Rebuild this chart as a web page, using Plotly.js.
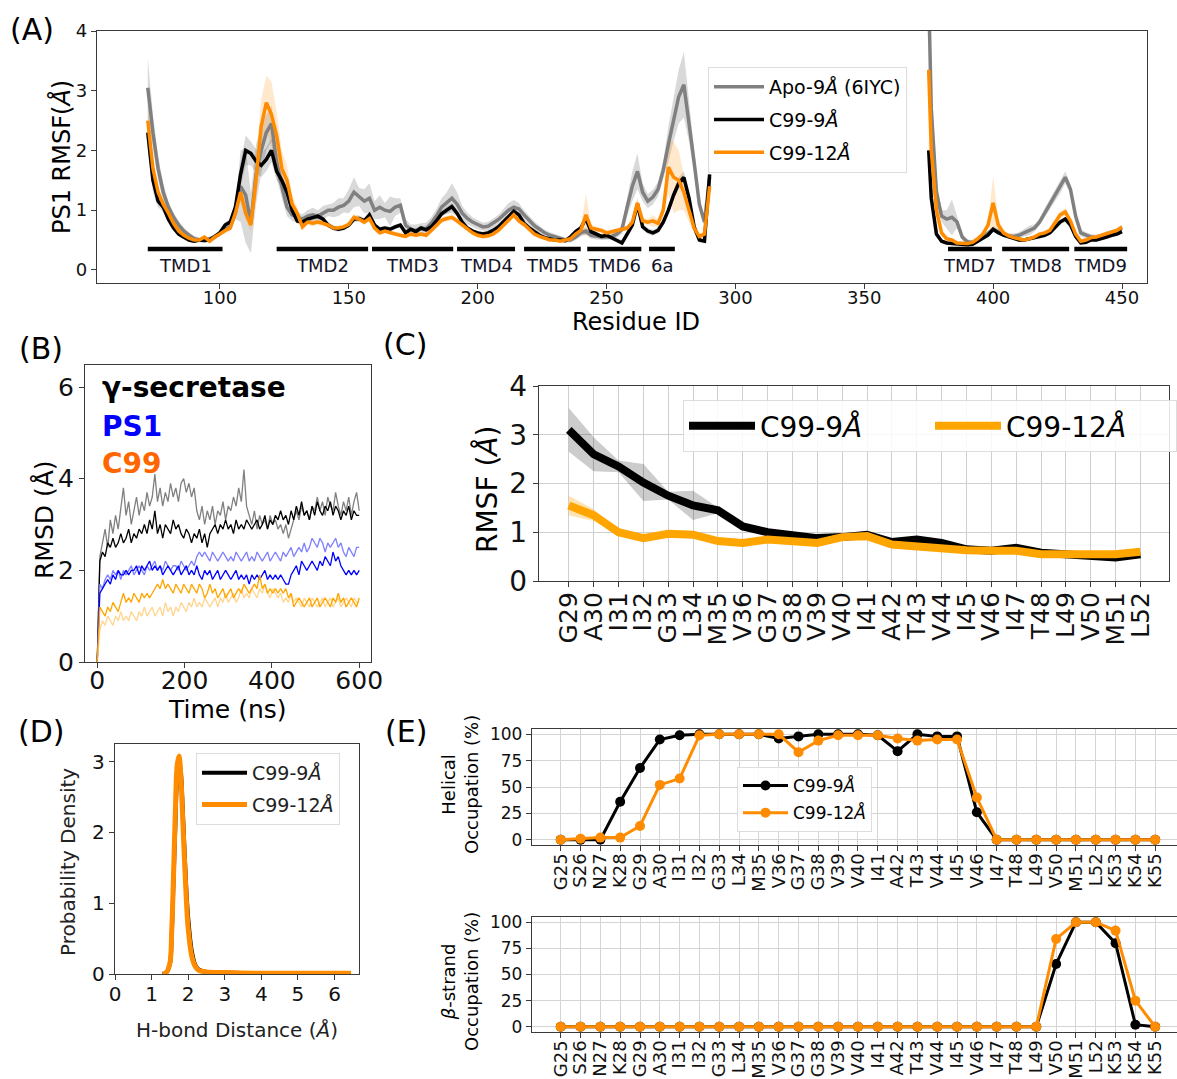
<!DOCTYPE html>
<html>
<head>
<meta charset="utf-8">
<script src="https://cdn.plot.ly/plotly-3.0.1.min.js"></script>
<style>html,body{margin:0;padding:0;background:#fff;}#chart{width:1177px;height:1079px;}</style>
</head>
<body>
<div id="chart"></div>
<script>
// ---------------- Panel A data: PS1 RMSF per residue ----------------
const residA = [72,74,76,78,80,82,84,86,88,90,
92,94,96,98,100,102,104,106,108,110,
112,114,116,118,120,122,124,126,128,130,
132,134,136,138,140,142,144,146,148,150,
152,154,156,158,160,162,164,166,168,170,
172,174,176,178,180,182,184,186,188,190,
192,194,196,198,200,202,204,206,208,210,
212,214,216,218,220,222,224,226,228,230,
232,234,236,238,240,242,244,246,248,250,
252,254,256,258,260,262,264,266,268,270,
272,274,276,278,280,282,284,286,288,290,
330,
375,376,378,380,382,384,386,388,390,392,
394,396,398,400,402,404,406,408,410,412,
414,416,418,420,422,424,426,428,430,432,
434,436,438,440,442,444,446,448,450];
const apoA = [3.05,2.3,1.7,1.3,1.05,0.88,0.75,0.65,0.58,0.52,
0.5,0.5,0.52,0.55,0.62,0.68,0.72,0.95,1.4,1.25,
0.78,1.6,2.0,2.3,2.45,1.8,1.4,1.05,0.92,0.88,
0.85,0.9,0.92,0.9,0.95,1.0,1.0,1.05,1.08,1.15,
1.3,1.22,1.15,1.2,1.0,1.05,1.0,0.98,1.05,1.08,
0.75,0.68,0.66,0.7,0.69,0.78,0.9,1.05,1.12,1.2,
1.1,0.95,0.86,0.8,0.76,0.72,0.73,0.78,0.84,0.92,
1.0,1.05,1.02,0.92,0.82,0.74,0.68,0.62,0.58,0.55,
0.52,0.5,0.5,0.55,0.62,0.65,0.58,0.56,0.55,0.55,
0.56,0.6,0.68,1.05,1.4,1.65,1.3,1.15,1.22,1.35,
1.67,2.1,2.5,2.9,3.1,2.5,1.8,1.1,0.8,1.55,
null,
4.6,2.7,1.3,0.9,0.85,0.88,0.8,0.55,0.47,0.46,
0.48,0.55,0.62,0.68,0.64,0.6,0.57,0.56,0.58,0.62,
0.66,0.7,0.8,0.95,1.1,1.25,1.38,1.55,1.35,0.9,
0.62,0.58,0.55,0.54,0.56,0.6,0.62,0.65,0.7];
const apoSdA = [0.5,0.3,0.2,0.15,0.1,0.08,0.07,0.06,0.05,0.05,
0.04,0.04,0.04,0.05,0.05,0.05,0.06,0.1,0.6,0.8,
0.5,0.5,0.4,0.3,0.3,0.25,0.2,0.15,0.1,0.08,
0.08,0.1,0.12,0.1,0.12,0.1,0.12,0.15,0.12,0.2,
0.25,0.15,0.2,0.25,0.15,0.2,0.12,0.25,0.15,0.12,
0.1,0.08,0.1,0.08,0.1,0.1,0.12,0.15,0.18,0.25,
0.2,0.12,0.1,0.08,0.08,0.07,0.07,0.08,0.08,0.1,
0.12,0.12,0.1,0.08,0.08,0.07,0.06,0.05,0.05,0.05,
0.05,0.04,0.04,0.05,0.06,0.06,0.06,0.05,0.05,0.05,
0.05,0.06,0.08,0.15,0.25,0.3,0.15,0.12,0.12,0.12,
0.15,0.3,0.35,0.45,0.55,0.35,0.25,0.1,0.08,0.1,
null,
0.3,0.3,0.2,0.1,0.15,0.3,0.1,0.05,0.04,0.04,
0.04,0.04,0.05,0.05,0.05,0.04,0.04,0.05,0.05,0.06,
0.08,0.06,0.06,0.08,0.08,0.1,0.1,0.1,0.08,0.06,
0.06,0.05,0.05,0.05,0.05,0.05,0.05,0.05,0.05];
const c9A = [2.3,1.5,1.15,1.05,0.85,0.7,0.6,0.55,0.5,0.48,
0.5,0.49,0.5,0.56,0.62,0.75,0.8,1.05,1.6,2.0,
1.95,1.82,1.75,1.85,2.0,1.65,1.5,1.3,1.0,0.82,
0.8,0.85,0.88,0.9,0.85,0.75,0.7,0.68,0.7,0.75,
0.85,0.86,0.82,0.92,0.75,0.68,0.7,0.68,0.72,0.75,
0.62,0.68,0.64,0.7,0.67,0.72,0.82,0.94,1.0,1.06,
0.95,0.8,0.7,0.65,0.62,0.6,0.62,0.66,0.72,0.8,
0.88,0.98,0.92,0.78,0.7,0.64,0.58,0.54,0.52,0.5,
0.5,0.49,0.55,0.64,0.7,0.86,0.64,0.6,0.56,0.58,
0.54,0.5,0.45,0.6,0.75,1.1,0.72,0.65,0.62,0.66,
0.8,1.0,1.25,1.45,1.55,1.2,0.72,0.5,0.48,1.6,
null,
2.0,1.2,0.6,0.48,0.45,0.44,0.43,0.42,0.42,0.43,
0.48,0.53,0.58,0.68,0.62,0.58,0.55,0.52,0.5,0.5,
0.52,0.54,0.56,0.58,0.62,0.7,0.8,0.85,0.75,0.56,
0.45,0.46,0.5,0.5,0.52,0.55,0.58,0.6,0.64];
const c9SdA = [0.3,0.2,0.1,0.08,0.06,0.05,0.04,0.04,0.03,0.03,
0.03,0.03,0.03,0.03,0.04,0.05,0.05,0.08,0.2,0.25,
0.2,0.2,0.2,0.2,0.2,0.15,0.12,0.1,0.08,0.05,
0.05,0.05,0.05,0.05,0.05,0.04,0.04,0.04,0.04,0.04,
0.05,0.05,0.05,0.05,0.04,0.04,0.04,0.04,0.04,0.04,
0.04,0.04,0.04,0.04,0.04,0.04,0.05,0.05,0.06,0.06,
0.05,0.04,0.04,0.04,0.04,0.04,0.04,0.04,0.04,0.04,
0.05,0.05,0.05,0.04,0.04,0.04,0.04,0.03,0.03,0.03,
0.03,0.03,0.03,0.04,0.04,0.05,0.04,0.04,0.04,0.04,
0.04,0.04,0.04,0.04,0.05,0.06,0.05,0.05,0.05,0.05,
0.05,0.06,0.08,0.1,0.1,0.08,0.05,0.04,0.04,0.05,
null,
0.2,0.1,0.05,0.03,0.03,0.03,0.03,0.03,0.03,0.03,
0.03,0.03,0.03,0.04,0.03,0.03,0.03,0.03,0.03,0.03,
0.03,0.03,0.03,0.03,0.03,0.04,0.04,0.04,0.04,0.03,
0.03,0.03,0.03,0.03,0.03,0.03,0.03,0.03,0.03];
const c12A = [2.5,1.7,1.3,1.1,0.95,0.78,0.65,0.58,0.53,0.5,
0.5,0.55,0.48,0.55,0.6,0.66,0.7,0.95,1.3,0.95,
0.75,1.5,2.4,2.8,2.6,2.25,1.7,1.5,1.1,0.95,
0.72,0.8,0.78,0.8,0.78,0.75,0.7,0.7,0.72,0.76,
0.88,0.85,0.8,0.86,0.7,0.62,0.65,0.62,0.6,0.58,
0.56,0.6,0.58,0.6,0.58,0.66,0.75,0.83,0.86,0.88,
0.82,0.75,0.68,0.62,0.58,0.56,0.57,0.6,0.66,0.74,
0.84,0.92,0.82,0.76,0.68,0.6,0.56,0.53,0.5,0.5,
0.48,0.5,0.52,0.6,0.66,0.92,0.7,0.68,0.66,0.62,
0.64,0.66,0.68,0.7,0.8,1.12,0.82,0.8,0.82,0.78,
1.0,1.72,1.55,1.5,1.3,1.0,0.7,0.56,0.6,1.4,
null,
3.35,2.0,1.0,0.62,0.52,0.5,0.45,0.44,0.44,0.46,
0.52,0.6,0.75,1.12,0.75,0.62,0.57,0.54,0.52,0.5,
0.52,0.55,0.6,0.62,0.66,0.78,0.92,0.97,0.82,0.6,
0.48,0.5,0.54,0.55,0.58,0.6,0.63,0.66,0.72];
const c12SdA = [0.3,0.2,0.1,0.08,0.06,0.05,0.04,0.04,0.03,0.03,
0.03,0.03,0.03,0.03,0.04,0.05,0.05,0.08,0.15,0.12,
0.1,0.3,0.45,0.45,0.55,0.4,0.3,0.25,0.15,0.1,
0.06,0.05,0.05,0.05,0.05,0.04,0.04,0.04,0.04,0.05,
0.05,0.05,0.05,0.05,0.04,0.04,0.04,0.04,0.04,0.04,
0.04,0.04,0.04,0.04,0.04,0.04,0.05,0.05,0.05,0.05,
0.05,0.04,0.04,0.04,0.04,0.04,0.04,0.04,0.04,0.04,
0.05,0.05,0.05,0.04,0.04,0.04,0.04,0.03,0.03,0.03,
0.03,0.03,0.03,0.04,0.05,0.35,0.06,0.04,0.04,0.04,
0.04,0.04,0.04,0.04,0.05,0.1,0.06,0.05,0.1,0.06,
0.1,0.45,0.6,0.5,0.3,0.2,0.1,0.05,0.05,0.05,
null,
0.3,0.2,0.1,0.05,0.04,0.03,0.03,0.03,0.03,0.03,
0.03,0.03,0.05,0.45,0.1,0.05,0.04,0.04,0.03,0.03,
0.03,0.03,0.03,0.03,0.03,0.04,0.06,0.06,0.05,0.04,
0.03,0.03,0.03,0.03,0.03,0.03,0.03,0.03,0.03];
const tmdNames = ['TMD1','TMD2','TMD3','TMD4','TMD5','TMD6','6a','TMD7','TMD8','TMD9'];
const tmdStart = [72,122,159,192,218,242.5,266.5,382.5,403.5,431.5];
const tmdEnd   = [101,157.5,190.5,214.5,240,263.5,276.5,399.5,429.5,452];

// ---------------- Panel B data: RMSD time series ----------------
const timeB = [0,6,12,18,24,30,36,42,48,54,60,66,72,78,84,90,96,102,108,114,
120,126,132,138,144,150,156,162,168,174,180,186,192,198,204,210,216,222,228,234,
240,246,252,258,264,270,276,282,288,294,300,306,312,318,324,330,336,342,348,354,
360,366,372,378,384,390,396,402,408,414,420,426,432,438,444,450,456,462,468,474,
480,486,492,498,504,510,516,522,528,534,540,546,552,558,564,570,576,582,588,594,600];
const gsecGrayB = [0,2.3,2.6,2.9,2.5,3.1,2.8,3.2,2.9,3.4,
3.8,3.2,3.5,3.0,3.3,3.6,3.2,3.5,3.3,3.7,
3.4,3.6,4.1,3.5,3.8,3.4,3.7,3.5,3.9,3.6,
3.8,3.5,3.9,4.0,3.7,3.9,3.6,3.8,3.3,3.1,
3.4,3.0,3.3,3.1,3.4,3.0,3.3,3.2,3.5,3.1,
3.4,3.3,3.6,3.4,3.8,3.5,4.2,3.4,3.2,3.0,
3.3,2.9,3.2,3.0,3.1,2.9,3.2,3.0,3.1,2.9,
3.0,2.8,3.0,2.7,2.9,3.1,3.3,3.1,3.4,3.2,
3.3,3.1,3.4,3.3,3.6,3.3,3.5,3.2,3.6,3.4,
3.3,3.7,3.4,3.2,3.5,3.3,3.6,3.2,3.5,3.7,3.3];
const gsecBlackB = [0,2.2,2.4,2.3,2.6,2.5,2.7,2.5,2.6,2.8,
2.6,2.7,2.9,2.6,2.8,2.7,2.9,2.8,3.0,2.8,
3.1,2.9,3.3,2.8,3.0,2.7,3.0,2.9,2.8,3.1,
2.9,3.0,2.8,2.7,2.9,2.8,2.6,2.8,2.7,2.9,
2.6,2.8,2.5,2.8,2.9,3.0,2.8,3.0,2.9,3.1,
2.9,3.0,2.8,3.1,2.9,3.0,2.9,3.1,3.0,2.9,
3.0,3.1,2.9,3.0,3.2,2.9,3.1,3.0,3.2,3.1,
3.3,3.1,3.2,3.0,3.3,3.1,3.4,3.2,3.5,3.2,
3.3,3.1,3.4,3.2,3.5,3.3,3.2,3.4,3.3,3.5,
3.2,3.4,3.3,3.1,3.3,3.2,3.4,3.1,3.3,3.2,3.2];
const ps1LightB = [0,1.7,1.6,1.8,1.9,1.8,2.0,1.9,2.0,1.8,
2.0,1.9,2.0,2.1,1.9,2.0,2.1,2.0,1.9,2.1,
2.0,2.1,2.2,2.0,2.1,2.0,2.2,2.1,2.0,2.1,
2.1,2.0,2.2,2.1,2.0,2.1,2.2,2.1,2.3,2.4,
2.3,2.4,2.3,2.2,2.4,2.3,2.2,2.3,2.4,2.3,
2.2,2.3,2.2,2.4,2.3,2.2,2.3,2.4,2.2,2.3,
2.2,2.4,2.3,2.2,2.3,2.4,2.2,2.3,2.4,2.3,
2.2,2.4,2.3,2.4,2.5,2.3,2.4,2.5,2.4,2.6,
2.4,2.5,2.7,2.6,2.5,2.7,2.6,2.4,2.6,2.5,
2.6,2.7,2.5,2.6,2.4,2.3,2.5,2.4,2.3,2.5,2.5];
const ps1BlueB = [0,1.5,1.6,1.7,1.8,1.7,1.9,1.8,2.0,1.9,
1.9,2.0,1.9,2.0,2.0,2.1,1.9,2.1,2.0,2.1,
2.2,2.0,2.1,2.0,2.1,1.9,2.0,2.1,2.0,1.9,
2.0,2.1,1.9,2.0,2.1,1.9,2.0,1.9,2.1,1.9,
1.8,2.0,1.9,2.0,1.8,1.9,2.0,1.8,1.9,2.0,
1.9,1.8,1.9,2.0,1.8,1.9,1.8,1.9,1.7,1.9,
1.8,1.9,1.8,1.9,2.0,1.8,1.9,1.8,1.9,1.8,
1.9,1.8,1.7,1.7,1.9,2.0,2.1,1.9,2.2,2.1,
2.0,2.1,2.2,2.1,2.0,2.2,2.1,2.3,2.2,2.1,
2.4,2.2,2.3,2.1,2.0,1.9,2.0,1.9,2.0,1.9,2.0];
const c99OrangeB = [0,1.2,1.1,1.0,1.2,1.1,1.3,1.2,1.1,1.3,
1.5,1.3,1.4,1.3,1.5,1.4,1.3,1.5,1.4,1.5,
1.4,1.5,1.6,1.7,1.6,1.8,1.6,1.7,1.6,1.5,
1.7,1.6,1.5,1.7,1.6,1.5,1.7,1.6,1.5,1.7,
1.6,1.4,1.5,1.7,1.5,1.6,1.4,1.5,1.6,1.4,
1.5,1.6,1.4,1.5,1.6,1.5,1.7,1.6,1.5,1.6,
1.7,1.6,1.9,1.6,1.7,1.5,1.6,1.5,1.6,1.5,
1.6,1.5,1.6,1.4,1.5,1.2,1.3,1.4,1.3,1.2,
1.3,1.4,1.2,1.3,1.4,1.2,1.3,1.4,1.3,1.2,
1.4,1.3,1.5,1.3,1.4,1.2,1.3,1.4,1.3,1.2,1.4];
const c99LightB = [0,0.7,0.9,0.8,1.0,0.9,0.8,1.0,0.9,1.1,
0.9,1.0,0.9,1.1,1.0,0.9,1.1,1.0,1.2,1.0,
1.1,1.2,1.0,1.1,1.2,1.0,1.3,1.1,1.2,1.0,
1.2,1.1,1.3,1.2,1.1,1.3,1.2,1.4,1.2,1.3,
1.2,1.4,1.3,1.2,1.3,1.4,1.2,1.4,1.3,1.5,
1.3,1.4,1.5,1.3,1.4,1.6,1.4,1.5,1.4,1.6,
1.5,1.4,1.6,1.5,1.7,1.5,1.4,1.6,1.5,1.4,
1.5,1.3,1.4,1.3,1.5,1.3,1.4,1.3,1.2,1.4,
1.3,1.2,1.4,1.3,1.2,1.3,1.4,1.2,1.3,1.4,
1.2,1.3,1.4,1.2,1.3,1.4,1.3,1.2,1.4,1.3,1.3];

// ---------------- Panel C data: C99 RMSF ----------------
const resC = ['G29','A30','I31','I32','G33','L34','M35','V36','G37','G38','V39','V40','I41','A42','T43','V44','I45','V46','I47','T48','L49','V50','M51','L52'];
const c9C = [3.1,2.6,2.35,2.02,1.75,1.55,1.45,1.12,1.0,0.95,0.88,0.9,0.95,0.8,0.85,0.78,0.65,0.62,0.68,0.58,0.55,0.5,0.48,0.55];
const c9SdC = [0.45,0.35,0.12,0.38,0.08,0.3,0.06,0.05,0.04,0.04,0.03,0.03,0.03,0.04,0.05,0.04,0.03,0.03,0.03,0.03,0.02,0.02,0.02,0.02];
const c12C = [1.55,1.35,1.0,0.88,0.97,0.95,0.82,0.78,0.85,0.8,0.78,0.9,0.92,0.75,0.7,0.68,0.63,0.62,0.62,0.55,0.55,0.55,0.55,0.6];
const c12SdC = [0.2,0.12,0.05,0.04,0.03,0.03,0.03,0.03,0.03,0.03,0.03,0.03,0.03,0.03,0.03,0.03,0.03,0.03,0.03,0.03,0.03,0.03,0.03,0.03];

// ---------------- Panel D data: H-bond distance density ----------------
const distD = [1.3,1.4,1.5,1.55,1.6,1.65,1.7,1.75,1.8,1.85,1.9,1.95,2.0,2.1,2.2,2.3,2.5,3.0,4.0,5.0,6.0,6.45];
const c9D  = [0,0.02,0.14,0.55,1.3,2.1,2.8,3.0,2.85,2.35,1.75,1.2,0.8,0.32,0.12,0.06,0.03,0.02,0.01,0.01,0.01,0.01];
const c12D = [0,0.02,0.15,0.6,1.4,2.3,2.95,3.08,2.8,2.2,1.6,1.05,0.65,0.25,0.1,0.05,0.03,0.02,0.01,0.01,0.01,0.01];

// ---------------- Panel E data: secondary structure occupation ----------------
const resE = ['G25','S26','N27','K28','G29','A30','I31','I32','G33','L34','M35','V36','G37','G38','V39','V40','I41','A42','T43','V44','I45','V46','I47','T48','L49','V50','M51','L52','K53','K54','K55'];
const helixC9  = [0,0,0,36,68,95,99,100,100,100,100,96,98,100,100,100,99,84,100,98,98,26,0,0,0,0,0,0,0,0,0];
const helixC12 = [0,1,2,2,13,52,58,99,100,100,100,100,83,94,99,99,99,96,94,95,95,40,0,0,0,0,0,0,0,0,0];
const betaC9   = [0,0,0,0,0,0,0,0,0,0,0,0,0,0,0,0,0,0,0,0,0,0,0,0,0,60,100,100,80,2,0];
const betaC12  = [0,0,0,0,0,0,0,0,0,0,0,0,0,0,0,0,0,0,0,0,0,0,0,0,0,84,100,100,92,25,0];

// ---------------- helpers ----------------
const FONT = 'DejaVu Sans, sans-serif';
function band(xs, mean, sd) {
  const bx = [], by = [];
  let seg = [];
  const flush = () => {
    if (!seg.length) return;
    seg.forEach(i => { bx.push(xs[i]); by.push(mean[i] + sd[i]); });
    seg.slice().reverse().forEach(i => { bx.push(xs[i]); by.push(mean[i] - sd[i]); });
    bx.push(null); by.push(null);
    seg = [];
  };
  for (let i = 0; i < xs.length; i++) {
    if (mean[i] === null) flush(); else seg.push(i);
  }
  flush();
  return {x: bx, y: by};
}
function bandTrace(xs, mean, sd, color, xa, ya) {
  const b = band(xs, mean, sd);
  return {x: b.x, y: b.y, xaxis: xa, yaxis: ya, mode: 'lines', fill: 'toself',
          fillcolor: color, line: {width: 0}, showlegend: false, hoverinfo: 'skip'};
}
const px = v => v / 1177, py = v => 1 - v / 1079;

const traces = [];
// Panel A
traces.push(bandTrace(residA, apoA, apoSdA, 'rgba(128,128,128,0.3)', 'x', 'y'));
traces.push(bandTrace(residA, c9A, c9SdA, 'rgba(0,0,0,0.15)', 'x', 'y'));
traces.push(bandTrace(residA, c12A, c12SdA, 'rgba(255,140,0,0.2)', 'x', 'y'));
traces.push({x: residA, y: apoA, xaxis: 'x', yaxis: 'y', mode: 'lines', connectgaps: false,
  line: {color: '#808080', width: 3.5}, name: 'Apo-9<i>Å</i> (6IYC)', legend: 'legend', legendgroup: 'a1'});
traces.push({x: residA, y: c9A, xaxis: 'x', yaxis: 'y', mode: 'lines', connectgaps: false,
  line: {color: '#000000', width: 3.5}, name: 'C99-9<i>Å</i>', legend: 'legend', legendgroup: 'a2'});
traces.push({x: residA, y: c12A, xaxis: 'x', yaxis: 'y', mode: 'lines', connectgaps: false,
  line: {color: '#ff8c00', width: 3.5}, name: 'C99-12<i>Å</i>', legend: 'legend', legendgroup: 'a3'});

// Panel B
[[gsecGrayB, '#808080'], [gsecBlackB, '#000000'], [ps1LightB, '#8080ff'], [ps1BlueB, '#0000ff'],
 [c99LightB, '#ffd58f'], [c99OrangeB, '#ffa500']].forEach(([ys, c]) => {
  traces.push({x: timeB, y: ys, xaxis: 'x2', yaxis: 'y2', mode: 'lines',
    line: {color: c, width: 1.3}, showlegend: false, hoverinfo: 'skip'});
});

// Panel C
traces.push(bandTrace(resC, c9C, c9SdC, 'rgba(0,0,0,0.2)', 'x3', 'y3'));
traces.push(bandTrace(resC, c12C, c12SdC, 'rgba(255,165,0,0.3)', 'x3', 'y3'));
traces.push({x: resC, y: c9C, xaxis: 'x3', yaxis: 'y3', mode: 'lines',
  line: {color: '#000000', width: 8}, name: 'C99-9<i>Å</i>', legend: 'legend2'});
traces.push({x: resC, y: c12C, xaxis: 'x3', yaxis: 'y3', mode: 'lines',
  line: {color: '#ffa500', width: 8}, name: 'C99-12<i>Å</i>', legend: 'legend2'});

// Panel D
traces.push({x: distD, y: c9D, xaxis: 'x4', yaxis: 'y4', mode: 'lines', line: {color: '#000000', width: 4, shape: 'spline'},
  name: 'C99-9<i>Å</i>', legend: 'legend3', legendgroup: 'd1'});
traces.push({x: distD, y: c12D, xaxis: 'x4', yaxis: 'y4', mode: 'lines', line: {color: '#ff8c00', width: 5, shape: 'spline'},
  name: 'C99-12<i>Å</i>', legend: 'legend3', legendgroup: 'd2'});

// Panel E
traces.push({x: resE, y: helixC9, xaxis: 'x5', yaxis: 'y5', mode: 'lines+markers',
  line: {color: '#000000', width: 3}, marker: {color: '#000000', size: 10}, name: 'C99-9<i>Å</i>', legend: 'legend4', legendgroup: 'e1'});
traces.push({x: resE, y: helixC12, xaxis: 'x5', yaxis: 'y5', mode: 'lines+markers',
  line: {color: '#ff8c00', width: 3}, marker: {color: '#ff8c00', size: 10}, name: 'C99-12<i>Å</i>', legend: 'legend4', legendgroup: 'e2'});
traces.push({x: resE, y: betaC9, xaxis: 'x6', yaxis: 'y6', mode: 'lines+markers',
  line: {color: '#000000', width: 3}, marker: {color: '#000000', size: 10}, showlegend: false});
traces.push({x: resE, y: betaC12, xaxis: 'x6', yaxis: 'y6', mode: 'lines+markers',
  line: {color: '#ff8c00', width: 3}, marker: {color: '#ff8c00', size: 10}, showlegend: false});

// axes
function ax(extra, size) {
  return Object.assign({showline: true, mirror: true, linecolor: '#3a3a3a', linewidth: 1.2,
    ticks: 'outside', ticklen: 5, tickcolor: '#3a3a3a', zeroline: false, showgrid: false, automargin: false,
    tickfont: {family: FONT, size: size, color: '#111'}}, extra);
}

const shapes = tmdNames.map((n, i) => ({type: 'line', xref: 'x', yref: 'y',
  x0: tmdStart[i], x1: tmdEnd[i], y0: 0.35, y1: 0.35, line: {color: '#000', width: 4.5}}));

const ann = [];
tmdNames.forEach((n, i) => ann.push({xref: 'x', yref: 'y', x: (tmdStart[i] + tmdEnd[i]) / 2, y: 0.08,
  text: n, showarrow: false, font: {family: FONT, size: 18, color: '#141428'}, xanchor: 'center', yanchor: 'middle'}));
function t(text, x, y, size, extra) {
  ann.push(Object.assign({xref: 'paper', yref: 'paper', x: px(x), y: py(y), text: text, showarrow: false,
    xanchor: 'center', yanchor: 'middle', font: {family: FONT, size: size, color: '#000'}}, extra || {}));
}
t('(A)', 32, 30, 30);
t('(B)', 41, 348, 30);
t('(C)', 405, 345, 30);
t('(D)', 41, 732, 30);
t('(E)', 406, 732, 30);
t('PS1 RMSF(<i>Å</i>)', 62, 157, 24, {textangle: -90});
t('Residue ID', 636, 322, 24);
t('RMSD (Å)', 44, 520, 25, {textangle: -90});
t('Time (ns)', 228, 709, 25);
t('RMSF (<i>Å</i>)', 487, 490, 28, {textangle: -90});
t('Probability Density', 68, 862, 20, {textangle: -90, font: {family: FONT, size: 20, color: '#222'}});
t('H-bond Distance (<i>Å</i>)', 237, 1030, 20, {font: {family: FONT, size: 20, color: '#222'}});
t('Helical<br>Occupation (%)', 460, 785, 18, {textangle: -90});
t('<i>β</i>-strand<br>Occupation (%)', 460, 982, 18, {textangle: -90});
t('<b>γ-secretase</b>', 100, 388, 28, {xanchor: 'left'});
t('<b>PS1</b>', 100, 426, 28, {xanchor: 'left', font: {family: FONT, size: 28, color: '#0000ff'}});
t('<b>C99</b>', 100, 463, 28, {xanchor: 'left', font: {family: FONT, size: 28, color: '#ff6600'}});

const layout = {
  width: 1177, height: 1079, autosize: false,
  margin: {l: 0, r: 0, t: 0, b: 0, pad: 0, autoexpand: false},
  paper_bgcolor: '#fff', plot_bgcolor: '#fff',
  font: {family: FONT, color: '#000'},
  showlegend: true,
  xaxis: ax({domain: [px(97), px(1147)], range: [52.3, 459.7], tickvals: [100,150,200,250,300,350,400,450], ticklabelstandoff: -7, anchor: 'y'}, 18),
  yaxis: ax({domain: [py(283), py(31)], range: [-0.22, 4], tickvals: [0,1,2,3,4], anchor: 'x'}, 18),
  xaxis2: ax({domain: [px(85), px(371)], range: [-28, 627], tickvals: [0,200,400,600], ticklabelstandoff: -9, anchor: 'y2'}, 25),
  yaxis2: ax({domain: [py(662), py(365)], range: [0, 6.48], tickvals: [0,2,4,6], anchor: 'x2'}, 25),
  xaxis3: ax({domain: [px(539), px(1169)], type: 'category', categoryorder: 'array', categoryarray: resC,
    tickmode: 'array', tickvals: resC, ticktext: resC,
    range: [-1.2, 24.15], tickangle: -90, ticklabelstandoff: -5, showgrid: true, gridcolor: '#cfcfcf', anchor: 'y3'}, 25),
  yaxis3: ax({domain: [py(581), py(386)], range: [0, 4], tickvals: [0,1,2,3,4], showgrid: true, gridcolor: '#cfcfcf', anchor: 'x3'}, 28),
  xaxis4: ax({domain: [px(115), px(359)], range: [0, 6.67], tickvals: [0,1,2,3,4,5,6], ticklabelstandoff: -3, anchor: 'y4'}, 20),
  yaxis4: ax({domain: [py(974), py(744)], range: [0, 3.25], tickvals: [0,1,2,3], anchor: 'x4'}, 20),
  xaxis5: ax({domain: [px(532), 1], type: 'category', categoryorder: 'array', categoryarray: resE,
    tickmode: 'array', tickvals: resE, ticktext: resE,
    range: [-1.45, 31.1], tickangle: -90, ticklabelstandoff: -5, showgrid: true, gridcolor: '#d5d5d5', anchor: 'y5'}, 18),
  yaxis5: ax({domain: [py(845), py(729)], range: [-5, 105], tickvals: [0,25,50,75,100], showgrid: true, gridcolor: '#d5d5d5', anchor: 'x5'}, 17),
  xaxis6: ax({domain: [px(532), 1], type: 'category', categoryorder: 'array', categoryarray: resE,
    tickmode: 'array', tickvals: resE, ticktext: resE,
    range: [-1.45, 31.1], tickangle: -90, ticklabelstandoff: -5, showgrid: true, gridcolor: '#d5d5d5', anchor: 'y6'}, 18),
  yaxis6: ax({domain: [py(1032), py(917)], range: [-5, 105], tickvals: [0,25,50,75,100], showgrid: true, gridcolor: '#d5d5d5', anchor: 'x6'}, 17),
  legend: {x: px(708), y: py(67), xanchor: 'left', yanchor: 'top', bgcolor: 'rgba(255,255,255,0.85)',
    itemwidth: 50, tracegroupgap: 5, traceorder: 'grouped',
    bordercolor: '#dddddd', borderwidth: 1, font: {family: FONT, size: 19, color: '#000'}},
  legend2: {x: px(683), y: py(400), xanchor: 'left', yanchor: 'top', orientation: 'h', itemwidth: 66, entrywidth: 165,
    bgcolor: 'rgba(255,255,255,0.85)', bordercolor: '#dddddd', borderwidth: 1, font: {family: FONT, size: 28, color: '#000'}},
  legend3: {x: px(196), y: py(753), xanchor: 'left', yanchor: 'top', bgcolor: 'rgba(255,255,255,0.85)',
    itemwidth: 45, tracegroupgap: 4, traceorder: 'grouped',
    bordercolor: '#dddddd', borderwidth: 1, font: {family: FONT, size: 19, color: '#222'}},
  legend4: {x: px(737), y: py(767), xanchor: 'left', yanchor: 'top', bgcolor: 'rgba(255,255,255,0.85)',
    itemwidth: 45, tracegroupgap: 2, traceorder: 'grouped',
    bordercolor: '#dddddd', borderwidth: 1, font: {family: FONT, size: 17, color: '#000'}},
  shapes: shapes,
  annotations: ann
};

Plotly.newPlot('chart', traces, layout, {displayModeBar: false, staticPlot: true});
</script>
</body>
</html>
